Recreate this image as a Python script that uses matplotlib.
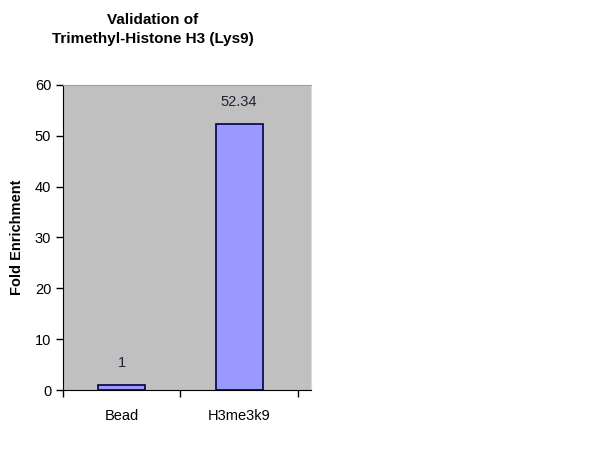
import matplotlib
matplotlib.use("Agg")
from matplotlib import pyplot as plt
import numpy as np

categories = ["Bead", "H3me3k9"]
values = [1, 52.34]
value_labels = ["1", "52.34"]
y_ticks = [0, 10, 20, 30, 40, 50, 60]

plt.rcParams['font.family'] = ['Liberation Sans', 'DejaVu Sans']

fig = plt.figure(figsize=(6, 4.5), dpi=100)
ax = fig.add_axes([0.105, 0.1333, 0.413, 0.678])
ax.set_facecolor('#C0C0C0')

x = np.arange(len(categories))
bars = ax.bar(x, values, width=0.4, color='#9999FF', edgecolor='#000040', linewidth=1.2)

for b, lab in zip(bars, value_labels):
    ax.annotate(lab, (b.get_x() + b.get_width() / 2, b.get_height()),
                xytext=(0, 11), textcoords='offset points',
                ha='center', va='bottom', fontsize=10.5, color='#222233')

ax.set_xlim(-0.5, 1.61)
ax.set_ylim(0, 60)
ax.set_yticks(y_ticks)
ax.set_xticks(x)
ax.set_xticklabels(categories, fontsize=10.5)
ax.set_xticks([-0.5, 0.5, 1.5], minor=True)
ax.tick_params(axis='x', which='major', length=0, pad=14)
ax.tick_params(axis='x', which='minor', length=5, direction='out', width=1)
ax.tick_params(axis='y', length=5, direction='out', width=1, labelsize=10.5)

ax.spines['left'].set_color('black')
ax.spines['bottom'].set_color('black')
ax.spines['top'].set_color('#A0A0A0')
ax.spines['right'].set_color('#D8D8D8')

ax.set_ylabel("Fold Enrichment", fontsize=10.5, fontweight='bold', labelpad=8)
fig.text(0.255, 0.935, "Validation of\nTrimethyl-Histone H3 (Lys9)", ha='center', va='center',
         fontsize=11, fontweight='bold', linespacing=1.45)

fig.savefig("out.png", dpi=100)
